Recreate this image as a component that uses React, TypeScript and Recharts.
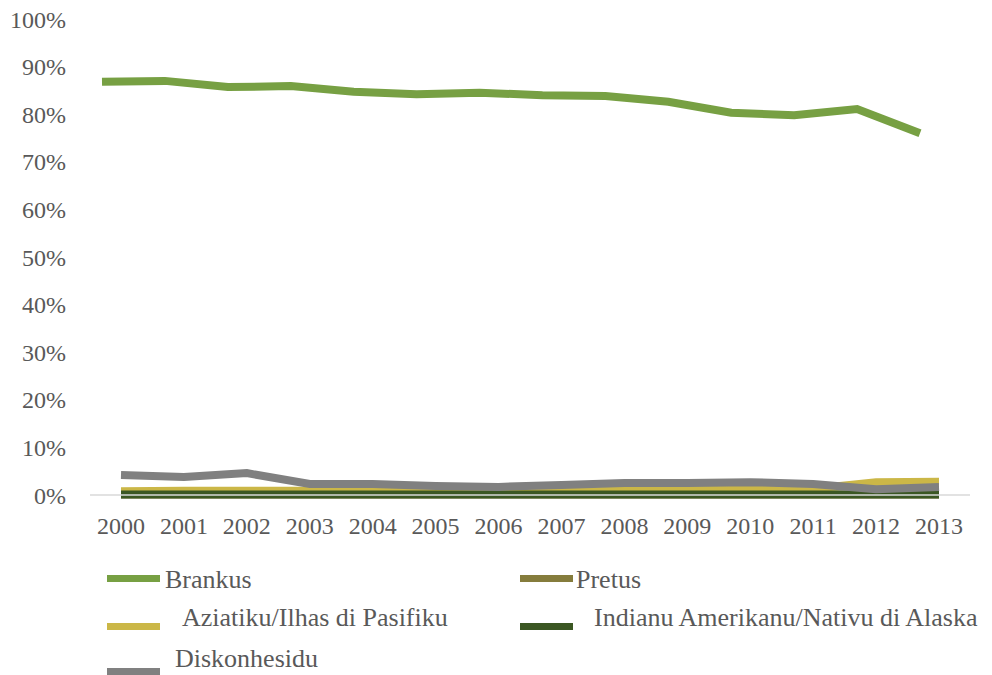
import React from 'react';
import { LineChart, Line, XAxis, YAxis } from 'recharts';

const years = ['2000', '2001', '2002', '2003', '2004', '2005', '2006', '2007', '2008', '2009', '2010', '2011', '2012', '2013'];
const brankus = [86.8, 87.0, 85.7, 85.9, 84.7, 84.2, 84.5, 84.0, 83.8, 82.6, 80.3, 79.8, 81.1, 76.0];
const pretus = [0.1, 0.1, 0.1, 0.1, 0.1, 0.1, 0.1, 0.1, 0.1, 0.1, 0.1, 0.1, 0.1, 0.1];
const aziatiku = [0.8, 0.9, 0.9, 0.9, 1.0, 1.0, 1.0, 1.1, 1.1, 1.3, 1.4, 1.3, 2.7, 2.8];
const indianu = [0.1, 0.1, 0.1, 0.1, 0.1, 0.1, 0.1, 0.1, 0.1, 0.1, 0.1, 0.1, 0.1, 0.1];
const diskonhesidu = [4.2, 3.8, 4.6, 2.3, 2.3, 1.9, 1.7, 2.1, 2.5, 2.5, 2.7, 2.3, 1.2, 1.7];
const yTicks = [0, 10, 20, 30, 40, 50, 60, 70, 80, 90, 100];

const series = [
    { key: 'brankus', name: 'Brankus', color: '#77a043', axis: 'shift' },
    { key: 'pretus', name: 'Pretus', color: '#857c3c', axis: 'main' },
    { key: 'aziatiku', name: 'Aziatiku/Ilhas di Pasifiku', color: '#cbb747', axis: 'main' },
    { key: 'indianu', name: 'Indianu Amerikanu/Nativu di Alaska', color: '#3b5723', axis: 'main' },
    { key: 'diskonhesidu', name: 'Diskonhesidu', color: '#808080', axis: 'main' },
];

// legend placement, mirrors the original two-column layout
const legendSlots = [
    { swatchX: 107, swatchY: 575, textX: 165, textY: 580 },
    { swatchX: 520, swatchY: 575, textX: 576, textY: 580 },
    { swatchX: 107, swatchY: 623, textX: 182, textY: 618 },
    { swatchX: 520, swatchY: 623, textX: 594, textY: 618 },
    { swatchX: 107, swatchY: 668, textX: 175, textY: 659 },
];

const data = years.map((year, i) => ({
    year,
    brankus: brankus[i],
    pretus: pretus[i],
    aziatiku: aziatiku[i],
    indianu: indianu[i],
    diskonhesidu: diskonhesidu[i],
}));

const font = 'Liberation Serif, Times New Roman, serif';
const tickStyle = { fontSize: 24, fill: '#595959', fontFamily: font };

const App: React.FC = () => {
    return (
        <div style={{ position: 'absolute', left: 0, top: 0, width: 992, height: 675, background: '#fff', overflow: 'hidden' }}>
            <LineChart width={992} height={545} data={data} margin={{ top: 19, right: 22, left: 0, bottom: 20 }}>
                <XAxis
                    xAxisId="main"
                    dataKey="year"
                    height={30}
                    padding={{ left: 31, right: 31 }}
                    tickLine={false}
                    tickSize={0}
                    tickMargin={22}
                    axisLine={{ stroke: '#d9d9d9', strokeWidth: 1.5 }}
                    tick={tickStyle}
                    interval={0}
                />
                <XAxis xAxisId="shift" dataKey="year" hide padding={{ left: 12, right: 50 }} />
                <YAxis
                    domain={[0, 100]}
                    ticks={yTicks}
                    width={90}
                    axisLine={false}
                    tickLine={false}
                    tickSize={0}
                    tickMargin={24}
                    tick={tickStyle}
                    tickFormatter={(v: number) => `${v}%`}
                    interval={0}
                />
                {series.map((s) => (
                    <Line
                        key={s.key}
                        xAxisId={s.axis}
                        type="linear"
                        dataKey={s.key}
                        name={s.name}
                        stroke={s.color}
                        strokeWidth={8}
                        dot={false}
                        isAnimationActive={false}
                    />
                ))}
            </LineChart>
            {series.map((s, i) => {
                const slot = legendSlots[i];
                return (
                    <React.Fragment key={s.key}>
                        <div style={{ position: 'absolute', left: slot.swatchX, top: slot.swatchY, width: 53, height: 7, background: s.color }} />
                        <div
                            style={{
                                position: 'absolute',
                                left: slot.textX,
                                top: slot.textY - 15,
                                height: 30,
                                lineHeight: '30px',
                                fontSize: 26,
                                fontFamily: font,
                                color: '#595959',
                                whiteSpace: 'nowrap',
                            }}
                        >
                            {s.name}
                        </div>
                    </React.Fragment>
                );
            })}
        </div>
    );
};

export default App;
